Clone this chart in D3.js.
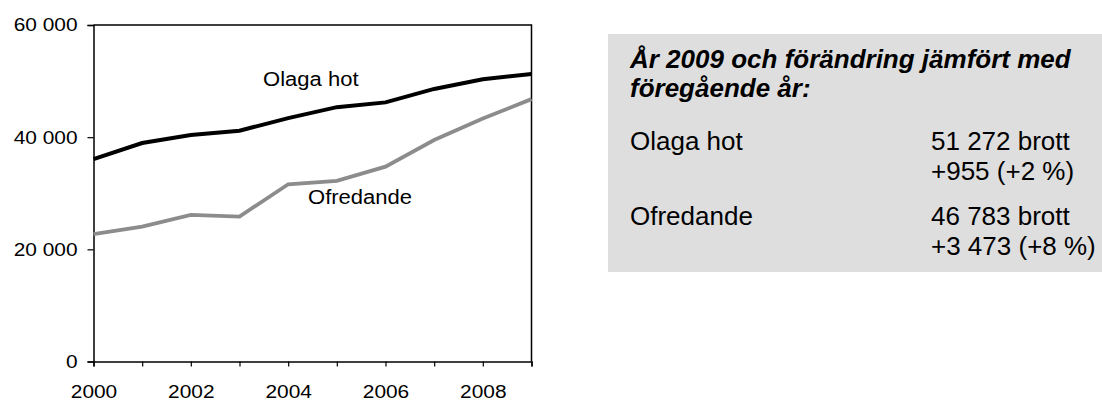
<!DOCTYPE html>
<html>
<head>
<meta charset="utf-8">
<script src="https://cdn.jsdelivr.net/npm/d3@7"></script>
<style>
  body { margin: 0; background: #fff; }
  svg { display: block; font-family: "Liberation Sans", Arial, sans-serif; }
  svg text { font-family: "Liberation Sans", Arial, sans-serif; }
</style>
</head>
<body>
<div id="chart"></div>
<script>
(function () {
    // Data
    const years = [2000, 2001, 2002, 2003, 2004, 2005, 2006, 2007, 2008, 2009];
    const olagaHot = [36100, 38950, 40400, 41150, 43400, 45350, 46200, 48600, 50317, 51272];
    const ofredande = [22700, 24050, 26150, 25850, 31600, 32200, 34750, 39500, 43310, 46783];
    const yTicks = [0, 20000, 40000, 60000];
    const xLabelYears = [2000, 2002, 2004, 2006, 2008];
    const titleLines = ["År 2009 och förändring jämfört med", "föregående år:"];
    const rows = [
        { name: "Olaga hot", lines: ["51 272 brott", "+955 (+2 %)"] },
        { name: "Ofredande", lines: ["46 783 brott", "+3 473 (+8 %)"] }
    ];

    const W = 1102, H = 401;
    const plot = { left: 93.5, right: 531.5, top: 25, bottom: 361.5 };
    const stretch = 1.13; // chart text in the original is a little wide

    const svg = d3.select("#chart")
        .append("svg")
        .attr("width", W)
        .attr("height", H);

    const x = d3.scaleLinear()
        .domain([2000, 2009])
        .range([plot.left, plot.right]);

    const y = d3.scaleLinear()
        .domain([0, 60000])
        .range([plot.bottom, plot.top]);

    const fmt = v => d3.format(",")(v).replace(/,/g, " ");

    // widen a text horizontally around its own x
    function widen(sel) {
        sel.each(function () {
            const xx = +(this.getAttribute("x") || 0);
            d3.select(this)
                .attr("x", 0)
                .attr("transform", `translate(${xx},0) scale(${stretch},1)`);
        });
    }

    // plot frame (top and right)
    svg.append("path")
        .attr("d", `M${plot.left},${plot.top}H${plot.right}V${plot.bottom}`)
        .attr("fill", "none")
        .attr("stroke", "#000")
        .attr("stroke-width", 1.5);

    // Y axis
    const yAxis = svg.append("g")
        .attr("transform", `translate(${plot.left},0)`)
        .call(d3.axisLeft(y).tickValues(yTicks).tickFormat(fmt).tickSize(6).tickPadding(10));
    yAxis.attr("font-family", null).attr("font-size", null);
    yAxis.select(".domain").attr("stroke-width", 1.5);
    yAxis.selectAll(".tick line").attr("stroke-width", 1.2);
    yAxis.selectAll("text")
        .style("font-size", "18.5px")
        .attr("fill", "#000")
        .call(widen);

    // X axis
    const xAxis = svg.append("g")
        .attr("transform", `translate(0,${plot.bottom})`)
        .call(d3.axisBottom(x).tickValues(years).tickFormat(d => xLabelYears.includes(d) ? d : "")
            .tickSize(5).tickPadding(18));
    xAxis.attr("font-family", null).attr("font-size", null);
    xAxis.select(".domain").attr("stroke-width", 1.5);
    xAxis.selectAll(".tick line").attr("stroke-width", 1.2);
    xAxis.selectAll("text")
        .style("font-size", "18.5px")
        .attr("fill", "#000")
        .call(widen);

    const line = d3.line()
        .x((d, i) => x(years[i]))
        .y(d => y(d));

    svg.append("path")
        .datum(ofredande)
        .attr("d", line)
        .attr("fill", "none")
        .attr("stroke", "#8c8c8c")
        .attr("stroke-width", 3.8);

    svg.append("path")
        .datum(olagaHot)
        .attr("d", line)
        .attr("fill", "none")
        .attr("stroke", "#000")
        .attr("stroke-width", 4);

    // series labels
    svg.append("text")
        .attr("x", 263)
        .attr("y", 86.5)
        .style("font-size", "19.5px")
        .text("Olaga hot")
        .call(widen);

    svg.append("text")
        .attr("x", 308)
        .attr("y", 204)
        .style("font-size", "19.5px")
        .text("Ofredande")
        .call(widen);

    // info box
    const box = svg.append("g");
    box.append("rect")
        .attr("x", 608)
        .attr("y", 34)
        .attr("width", W - 608)
        .attr("height", 238)
        .attr("fill", "#dedede");

    titleLines.forEach((t, i) => {
        box.append("text")
            .attr("x", 630)
            .attr("y", 67.5 + i * 29)
            .style("font-size", "26px")
            .style("font-weight", "bold")
            .style("font-style", "italic")
            .text(t);
    });

    rows.forEach((r, i) => {
        const base = 150 + i * 75;
        box.append("text")
            .attr("x", 630)
            .attr("y", base)
            .style("font-size", "26px")
            .text(r.name);
        r.lines.forEach((l, j) => {
            box.append("text")
                .attr("x", 931)
                .attr("y", base + j * 30)
                .style("font-size", "26px")
                .text(l);
        });
    });
})();
</script>
</body>
</html>
